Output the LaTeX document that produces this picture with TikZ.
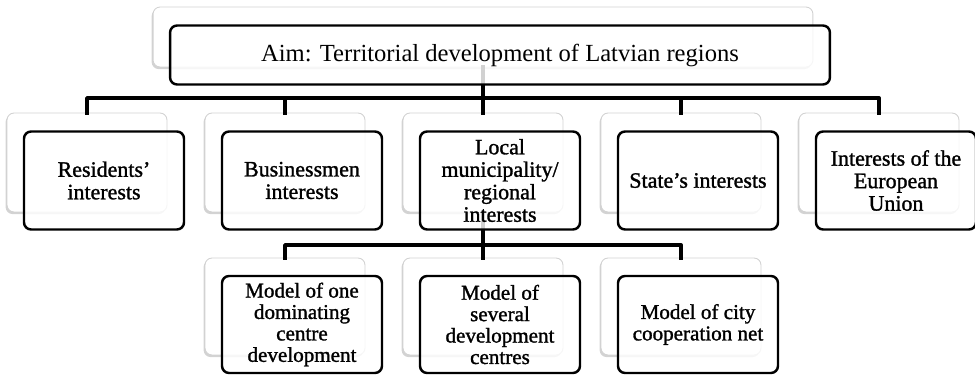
\documentclass[tikz,border=0pt]{standalone}
\usepackage{fontspec}
\setmainfont{Liberation Serif}
\newfontfamily\heavyserif[FakeBold=1.3]{Liberation Serif}
\usetikzlibrary{shadows}
\begin{document}
\begin{tikzpicture}[x=0.02cm,y=-0.02cm,line join=round,line cap=round,
	backbox/.style={draw=gray!35,line width=0.5pt,fill=white,rounded corners=4pt,
		minimum width=3.2cm,minimum height=1.98cm,
		drop shadow={shadow xshift=-0.8pt,shadow yshift=-1.2pt,opacity=0.35}},
	frontbox/.style={draw,line width=1.4pt,fill=white,fill opacity=0.82,text opacity=1,
		rounded corners=4pt,minimum width=3.2cm,minimum height=1.96cm,align=center,
		inner sep=1pt,font=\heavyserif\fontsize{12.5}{12.8}\selectfont},
	link/.style={line width=2.2pt,line cap=rect}]
	\useasboundingbox (0,0) rectangle (975,375);
	\def\dx{17} \def\dy{18}
	% back boxes
	\node[backbox,minimum width=13.2cm,minimum height=1.2cm] (aimb) at (483,37) {};
	\foreach \i/\xx in {1/87,2/285,3/483,4/681,5/879}
		\node[backbox] (b\i) at (\xx,162.5) {};
	\foreach \i/\xx in {1/285,2/483,3/681}
		\node[backbox,minimum height=1.94cm] (m\i) at (\xx,306.5) {};
	% connectors
	\coordinate (bus) at (483,98);
	\coordinate (sub) at (483,245);
	\draw[link] (aimb) -- (bus);
	\foreach \i in {1,...,5} \draw[link] (bus) -| (b\i);
	\draw[link] (b3) -- (sub);
	\foreach \i in {1,2,3} \draw[link] (sub) -| (m\i);
	% front boxes
	\node[frontbox,minimum width=13.2cm,minimum height=1.18cm,font=\fontsize{14}{16}\selectfont]
		(aim) at (483+\dx,37+\dy) {Aim: Territorial development of Latvian regions};
	\foreach \i/\xx/\txt in {1/87/{Residents’\\interests},2/285/{Businessmen\\interests},
		3/483/{Local\\municipality/\\regional\\interests},4/681/{State’s interests},
		5/879/{Interests of the\\European\\Union}}
		\node[frontbox] (f\i) at (\xx+\dx,162.5+\dy) {\txt};
	\foreach \i/\xx/\txt in {1/285/{Model of one\\dominating\\centre\\development},
		2/483/{Model of\\several\\development\\centres},3/681/{Model of city\\cooperation net}}
		\node[frontbox,minimum height=1.94cm,font=\heavyserif\fontsize{12}{12.2}\selectfont]
			(g\i) at (\xx+\dx,306.5+\dy) {\txt};
\end{tikzpicture}
\end{document}
